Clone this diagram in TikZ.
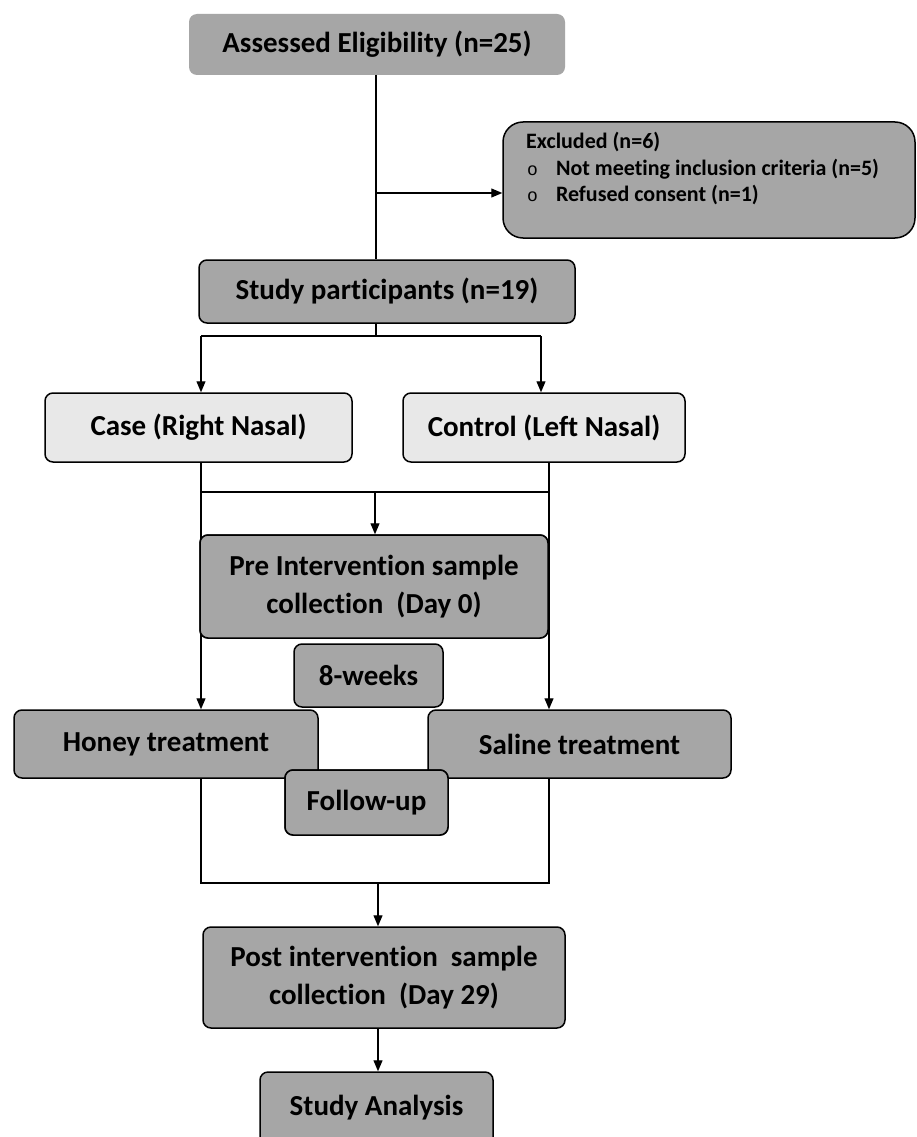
\documentclass[tikz,border=0pt]{standalone}
\usepackage{fontspec}
\setmainfont{Carlito}[Ligatures=NoCommon]
\newfontfamily\bulletfont{Liberation Mono}
\usetikzlibrary{arrows.meta}
\definecolor{dgray}{HTML}{A6A6A6}
\definecolor{lgray}{HTML}{E8E8E8}
\tikzset{
  box/.style={draw=black, line width=1.5pt, fill=dgray, rounded corners=8pt,
    align=center, inner sep=0pt, font=\fontsize{29}{38.5}\selectfont\bfseries},
  lbox/.style={box, fill=lgray},
  conn/.style={line width=1.2pt},
  arr/.style={conn, -{Triangle[length=11pt,width=9pt]}},
}
\begin{document}
\begin{tikzpicture}[x=1pt,y=-1pt]
\clip (0,0) rectangle (916,1137);
\fill[white] (0,0) rectangle (916,1137);
% nodes
\node[box, draw=none, minimum width=376pt, minimum height=61pt] (elig) at (377,44.5) {Assessed Eligibility (n=25)};
\node[box, rounded corners=20pt, minimum width=412pt, minimum height=116pt] (excl) at (709,180) {};
\node[anchor=north west, inner sep=0pt, font=\fontsize{22}{28}\selectfont\bfseries]
  (excltxt) at (526,129)
  {\begin{tabular}{@{}l@{\hspace{18pt}}l@{}}
   \multicolumn{2}{@{}l}{Excluded (n=6)}\\[-1.5pt]
   \bulletfont\mdseries\fontsize{18}{28}\selectfont\hspace{1pt}o & Not meeting inclusion criteria (n=5)\\[-1.5pt]
   \bulletfont\mdseries\fontsize{18}{28}\selectfont\hspace{1pt}o & Refused consent (n=1)
   \end{tabular}};
\node[box, minimum width=376pt, minimum height=63pt] (part) at (387,291.5) {Study participants (n=19)};
\node[lbox, minimum width=307pt, minimum height=69pt] (case) at (198.5,427.5) {Case (Right Nasal)};
\node[lbox, minimum width=282pt, minimum height=69pt] (ctrl) at (544,427.5) {Control (Left Nasal)};
\node[box, minimum width=348pt, minimum height=103pt] (pre) at (374,586.5) {Pre Intervention sample\\collection~ (Day 0)};
\node[box, minimum width=149pt, minimum height=63pt] (weeks) at (368.5,675.5) {8-weeks};
\node[box, minimum width=304pt, minimum height=68pt] (honey) at (166,744) {Honey treatment};
\node[box, minimum width=303pt, minimum height=68pt] (saline) at (579.5,744) {Saline treatment};
\node[box, minimum width=163pt, minimum height=65pt] (follow) at (366.5,802.5) {Follow-up};
\node[box, minimum width=362pt, minimum height=101pt] (post) at (384,977.5) {Post intervention~ sample\\collection~ (Day 29)};
\node[box, minimum width=233pt, minimum height=76pt] (anal) at (376.5,1110) {};
\node[font=\fontsize{29}{38}\selectfont\bfseries, inner sep=0pt] (analtxt) at (376.5,1108) {Study Analysis};
% coordinates
\coordinate (a1) at (376,75);
\coordinate (a2) at (376,193);
\coordinate (b1) at (376,323);
\coordinate (b2) at (376,336);
\coordinate (bl) at (201,336);
\coordinate (br) at (541,336);
\coordinate (c1) at (201,462);
\coordinate (c2) at (549,462);
\coordinate (cl) at (201,492);
\coordinate (cr) at (549,492);
\coordinate (cm) at (375,492);
\coordinate (d1) at (201,778);
\coordinate (d2) at (549,778);
\coordinate (dl) at (201,883);
\coordinate (dr) at (549,883);
\coordinate (dm) at (378,883);
% connectors
\draw[conn] (a1) -- (a1 |- part.north);
\draw[arr] (a2) -- (a2 -| excl.west);
\draw[conn] (b1) -- (b2);
\draw[conn] (bl) -- (br);
\draw[arr] (bl) -- (bl |- case.north);
\draw[arr] (br) -- (br |- ctrl.north);
\draw[conn] (cl) -- (cr);
\draw[arr] (cm) -- (cm |- pre.north);
\draw[arr] (c1) -- (c1 |- honey.north);
\draw[arr] (c2) -- (c2 |- saline.north);
\draw[conn] (d1) -- (dl) -- (dr) -- (d2);
\draw[arr] (dm) -- (dm |- post.north);
\draw[arr] (post.south -| dm) -- (dm |- anal.north);
% redraw overlapping boxes on top
\node[box, minimum width=348pt, minimum height=103pt] at (pre) {Pre Intervention sample\\collection~ (Day 0)};
\node[box, minimum width=163pt, minimum height=65pt] at (follow) {Follow-up};
\end{tikzpicture}
\end{document}
